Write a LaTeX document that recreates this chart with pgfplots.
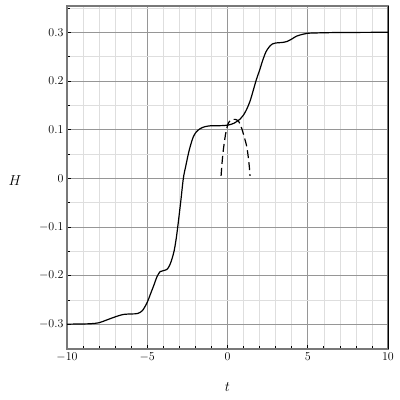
\documentclass[border=0pt]{standalone}
\usepackage{pgfplots}
\pgfplotsset{compat=1.18}

\definecolor{majgrid}{RGB}{150,150,150}
\definecolor{mingrid}{RGB}{222,222,222}
\definecolor{axgray}{RGB}{120,120,120}

\begin{document}
\begin{tikzpicture}
\begin{axis}[
    scale only axis,
    width=321pt, height=343pt,
    xmin=-10, xmax=10,
    ymin=-0.351, ymax=0.354,
    xtick={-10,-5,0,5,10},
    ytick={-0.3,-0.2,-0.1,0,0.1,0.2,0.3},
    minor xtick={-9,-8,...,9},
    minor ytick={-0.35,-0.25,-0.15,-0.05,0.05,0.15,0.25,0.35},
    yticklabel style={/pgf/number format/fixed},
    ticklabel style={font=\large},
    grid=both,
    major grid style={majgrid, line width=0.5pt},
    minor grid style={mingrid, line width=0.5pt},
    tick align=inside,
    xtick pos=left, ytick pos=left,
    major tick length=4pt, minor tick length=3pt,
    tick style={black, line width=0.6pt},
    axis line style={axgray, line width=1.3pt},
    xlabel={\Large $t$},
    ylabel={\Large $H$},
    xlabel style={at={(axis description cs:0.5,-0.11)}, anchor=center},
    ylabel style={rotate=-90, at={(axis description cs:-0.162,0.49)}, anchor=center},
]
% solid curve H(t)
\addplot[black, line width=1.2pt, smooth, tension=0.5] coordinates {
  (-10,-0.300) (-9,-0.2995) (-8.5,-0.299) (-8,-0.297) (-7.5,-0.291)
  (-7,-0.285) (-6.5,-0.280) (-6,-0.279) (-5.6,-0.278) (-5.3,-0.272)
  (-5.0,-0.255) (-4.8,-0.238) (-4.6,-0.221) (-4.4,-0.203) (-4.2,-0.192)
  (-4.0,-0.190) (-3.8,-0.188) (-3.65,-0.182) (-3.5,-0.170) (-3.33,-0.150)
  (-3.2,-0.125) (-3.1,-0.100) (-2.92,-0.050) (-2.75,0.000) (-2.6,0.025)
  (-2.44,0.050) (-2.3,0.068) (-2.13,0.085) (-1.95,0.095) (-1.7,0.102)
  (-1.4,0.106) (-1.0,0.108) (-0.5,0.108) (0.0,0.109) (0.4,0.113)
  (0.8,0.122) (1.0,0.130) (1.2,0.142) (1.4,0.158) (1.6,0.180)
  (1.8,0.203) (2.0,0.222) (2.2,0.243) (2.4,0.260) (2.6,0.270)
  (2.8,0.276) (3.0,0.278) (3.4,0.279) (3.7,0.281) (4.0,0.286)
  (4.3,0.292) (4.7,0.296) (5.0,0.298) (6,0.299) (7,0.2995) (10,0.300)
};
% dashed approximation
\addplot[black, line width=1.2pt, smooth, tension=0.5, dash pattern=on 8pt off 4pt] coordinates {
  (-0.40,0.005) (-0.33,0.035) (-0.26,0.058) (-0.17,0.080) (-0.09,0.096)
  (0.05,0.113) (0.2,0.119) (0.36,0.121) (0.5,0.121) (0.67,0.118)
  (0.8,0.110) (0.88,0.103) (1.0,0.090) (1.1,0.078) (1.2,0.065)
  (1.3,0.042) (1.37,0.020) (1.40,0.005)
};
\end{axis}
\draw[black, line width=0.6pt] (current axis.south east) -- (current axis.north east);
\pgfresetboundingbox
\path (current axis.south west) ++(-67pt,-51pt) rectangle ([shift={(12pt,6pt)}]current axis.north east);
\end{tikzpicture}
\end{document}
